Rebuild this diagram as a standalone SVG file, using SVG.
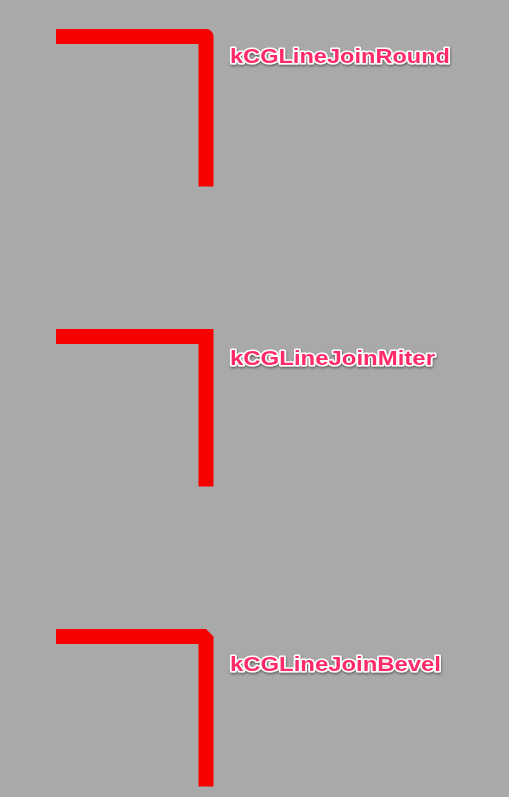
<svg xmlns="http://www.w3.org/2000/svg" width="509" height="797" viewBox="0 0 509 797">
  <defs>
    <filter id="shadow" x="-10%" y="-40%" width="120%" height="180%">
      <feDropShadow dx="0.5" dy="1.5" stdDeviation="1" flood-color="#000" flood-opacity="0.45"/>
    </filter>
  </defs>
  <style>
    .line { fill: none; stroke: #f70000; stroke-width: 15; stroke-linecap: butt; }
    .label { font-family: "Liberation Sans", Arial, sans-serif; font-weight: bold; font-size: 20.5px; fill: #ff2a68; stroke: #ffffff; stroke-width: 3; stroke-linejoin: round; paint-order: stroke fill; filter: url(#shadow); }
  </style>
  <rect x="0" y="0" width="509" height="797" fill="#a9a9a9"/>
  <g id="round">
    <path class="line" d="M56 36.5 H206 V186.5" stroke-linejoin="round"/>
    <text class="label" x="230" y="63" textLength="220" lengthAdjust="spacingAndGlyphs">kCGLineJoinRound</text>
  </g>
  <g id="miter">
    <path class="line" d="M56 336.5 H206 V486.5" stroke-linejoin="miter"/>
    <text class="label" x="230" y="364.5" textLength="205" lengthAdjust="spacingAndGlyphs">kCGLineJoinMiter</text>
  </g>
  <g id="bevel">
    <path class="line" d="M56 636.5 H206 V786.5" stroke-linejoin="bevel"/>
    <text class="label" x="230" y="671" textLength="211" lengthAdjust="spacingAndGlyphs">kCGLineJoinBevel</text>
  </g>
</svg>
